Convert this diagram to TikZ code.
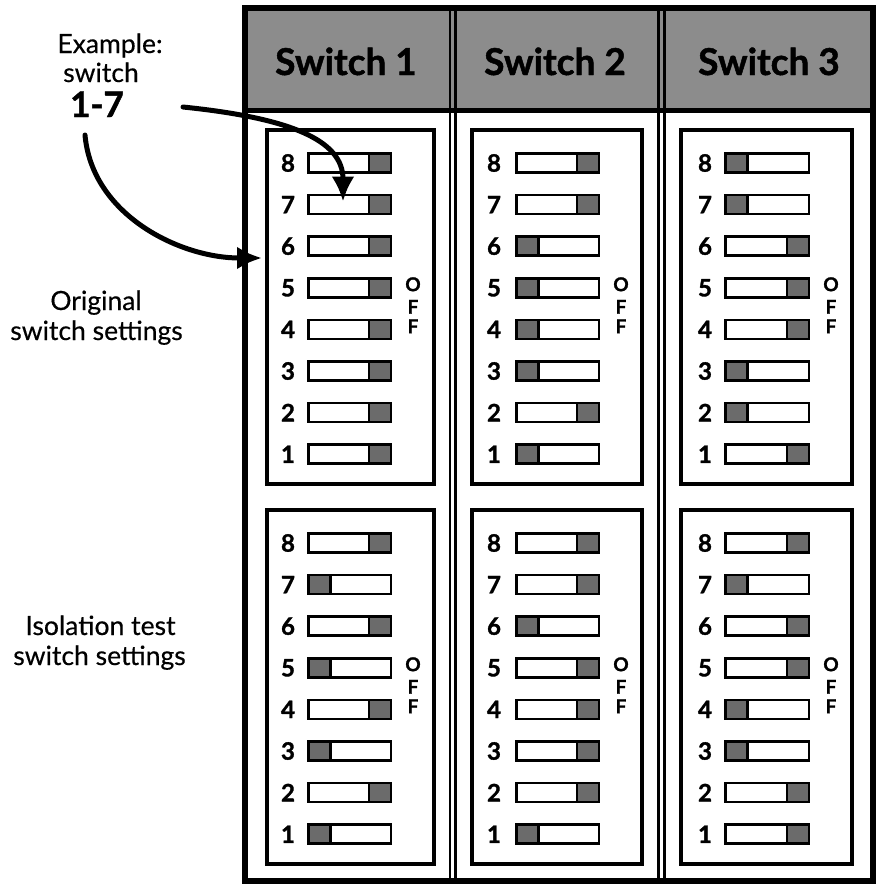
\documentclass[tikz,border=0pt]{standalone}
\usepackage{fontspec}
\setmainfont{Lato}[BoldFeatures={FakeBold=1.3}]
\newfontfamily\lblfont{Lato}[FakeBold=0.4]
\usetikzlibrary{arrows.meta}
\definecolor{hdrgray}{gray}{0.55}
\definecolor{knobgray}{gray}{0.42}
\tikzset{
  frame/.style={line width=6pt},
  divider/.style={line width=2.2pt},
  panel/.style={line width=4.5pt},
  swbox/.style={draw, line width=2.5pt, fill=white, minimum height=19pt, inner sep=0pt, outer sep=0pt},
  knob/.style={fill=knobgray, draw, line width=2.5pt},
  num/.style={font=\fontsize{24}{26}\selectfont\bfseries, inner sep=0pt},
  offl/.style={font=\fontsize{19}{21}\selectfont\bfseries, inner sep=0pt},
  hdr/.style={font=\fontsize{37}{40}\selectfont\bfseries, inner sep=0pt, anchor=base},
  lbl/.style={font=\lblfont\fontsize{26.5}{30}\selectfont, inner sep=0pt, anchor=base},
  bignum/.style={font=\fontsize{35}{38}\selectfont\bfseries, inner sep=0pt, anchor=base},
  callout/.style={line width=5pt, line cap=round, -{Latex[length=25pt,width=23pt]}},
}
% #1 name, #2 box left, #3 box right, #4 number x, #5 switch left, #6 switch right, #7 OFF x, #8 box top, #9 states
\newcommand\swpanel[9]{%
  \draw[panel] (#2,#8) rectangle (#3,{#8+354});
  \foreach \k/\st in {#9}{%
    \pgfmathsetmacro\yy{#8+33+(8-\k)*41.6}
    \node[num] (#1n\k) at (#4,\yy) {\k};
    \node[swbox, minimum width={(#6-#5-2.5)*1pt}] (#1s\k) at ({(#5+#6)/2},\yy) {};
    \ifnum\st=1
      \filldraw[knob] ([xshift=-22pt]#1s\k.north east) rectangle (#1s\k.south east);
    \else
      \filldraw[knob] (#1s\k.north west) rectangle ([xshift=22pt]#1s\k.south west);
    \fi
  }
  \pgfmathsetmacro\yf{#8+33+3*41.6}
  \node[offl] (#1o1) at (#7,\yf-3.5) {O};
  \node[offl] (#1o2) at (#7,\yf+19) {F};
  \node[offl] (#1o3) at (#7,\yf+38.5) {F};
}
\begin{document}
\begin{tikzpicture}[x=1pt,y=-1pt]
\useasboundingbox (0,0) rectangle (880,886);
\fill[white] (0,0) rectangle (880,886);
% header
\fill[hdrgray] (245,8) rectangle (873,110);
\draw[line width=5pt] (245,110) -- (873,110);
% column dividers
\foreach \x in {450,455.5,658.5,664.5}{\draw[divider] (\x,8) -- (\x,881);}
% outer frame
\draw[frame] (245,8) rectangle (873,881);
% header labels
\node[hdr] (h1) at (346,75) {Switch 1};
\node[hdr] (h2) at (555,75) {Switch 2};
\node[hdr] (h3) at (769,75) {Switch 3};
% panels
\swpanel{ua}{267}{434}{288}{307}{392}{413}{130}{8/1,7/1,6/1,5/1,4/1,3/1,2/1,1/1}
\swpanel{ub}{472}{642}{494}{515}{600}{621}{130}{8/1,7/1,6/0,5/0,4/0,3/0,2/1,1/0}
\swpanel{uc}{681}{852}{705}{724}{810}{831}{130}{8/0,7/0,6/1,5/1,4/1,3/0,2/0,1/1}
\swpanel{la}{267}{434}{288}{307}{392}{413}{510}{8/1,7/0,6/1,5/0,4/1,3/0,2/1,1/0}
\swpanel{lb}{472}{642}{494}{515}{600}{621}{510}{8/1,7/1,6/0,5/1,4/1,3/1,2/1,1/0}
\swpanel{lc}{681}{852}{705}{724}{810}{831}{510}{8/1,7/0,6/1,5/1,4/0,3/0,2/1,1/1}
% left labels
\node[lbl] (ex) at (110,53) {Example:};
\node[lbl] (exsw) at (101,82) {switch};
\node[bignum] (ex17) at (97,117) {1-7};
\node[lbl] (orig1) at (96,310) {Original};
\node[lbl] (orig2) at (96.5,340) {switch settings};
\node[lbl] (iso1) at (100.5,635) {Isolation test};
\node[lbl] (iso2) at (99.5,665) {switch settings};
% callout arrows
\coordinate (a1s) at (183,107);
\coordinate (a1e) at ([xshift=-6.5pt,yshift=-6.5pt]uas7.north);
\coordinate (a2s) at (85,135);
\coordinate (a2e) at (262,258);
\draw[callout] (a1s) .. controls (290,118) and (343,140) .. (a1e);
\draw[callout] (a2s) .. controls (92,215) and (180,258) .. (a2e);
\end{tikzpicture}
\end{document}
